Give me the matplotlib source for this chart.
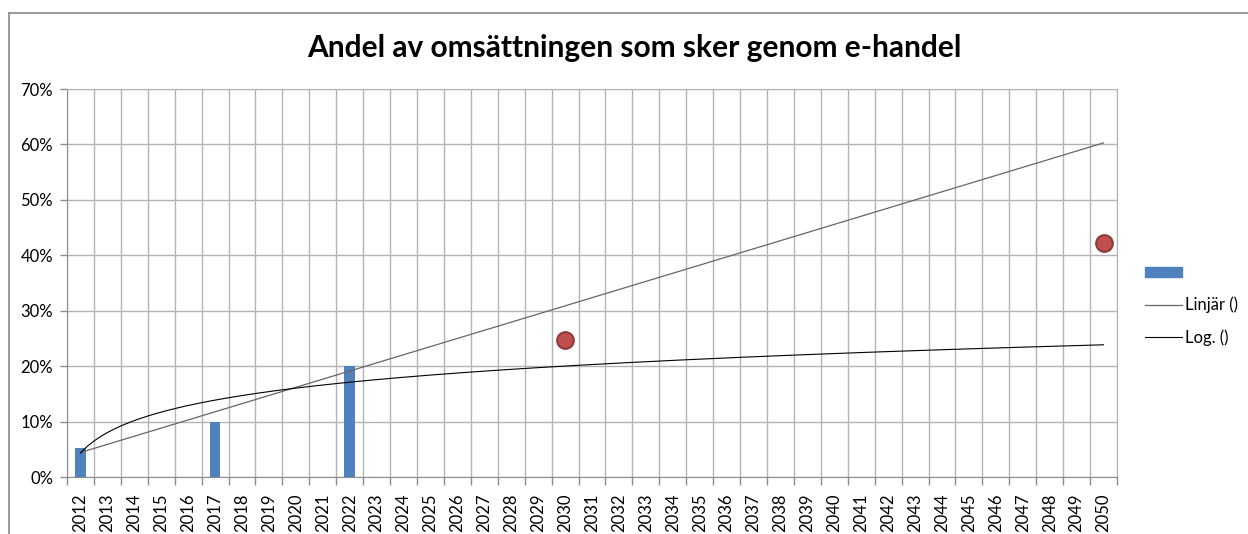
import numpy as np
import matplotlib.pyplot as plt
from matplotlib.lines import Line2D
from matplotlib.patches import Patch
from matplotlib.ticker import FuncFormatter

# ------------------------------------------------------
# data
years = list(range(2012, 2051))
bar_years = [2012, 2017, 2022]
bar_values = [0.053, 0.10, 0.20]
dot_years = [2030, 2050]
dot_values = [0.248, 0.422]
title = 'Andel av omsättningen som sker genom e-handel'
# ------------------------------------------------------

plt.rcParams['font.family'] = ['Lato', 'DejaVu Sans']

W, H = 1248, 534
fig = plt.figure(figsize=(W / 100, H / 100), dpi=100)
ax = fig.add_axes([67 / W, 1 - 477 / H, (1117 - 67) / W, (477 - 89) / H])

grid_c = '#b3b3b3'
axis_c = '#8c8c8c'

bar_x = [years.index(y) for y in bar_years]
dot_x = [years.index(y) for y in dot_years]

# bars
ax.bar(bar_x, bar_values, width=0.4, color='#4f81bd', zorder=3)

# markers only series
ax.plot(dot_x, dot_values, 'o', ms=12, mfc='#c0504d', mec='#8e3a38', mew=1.5, zorder=4)

# trendlines like excel: x is the category number 1..n
xn = np.array(bar_x) + 1
k, m = np.polyfit(xn, bar_values, 1)
xs = np.linspace(1, len(years), 400)
ax.plot(xs - 1, k * xs + m, color='#666666', lw=0.9, zorder=5)
b, a = np.polyfit(np.log(xn), bar_values, 1)
ax.plot(xs - 1, a + b * np.log(xs), color='black', lw=0.8, zorder=5)

# axes
ax.set_xlim(-0.5, len(years) - 0.5)
ax.set_ylim(0, 0.7)
ax.set_yticks(np.arange(0, 0.71, 0.1))
ax.yaxis.set_major_formatter(FuncFormatter(lambda v, p: f'{v * 100:.0f}%'))
ax.set_xticks(range(len(years)))
ax.set_xticklabels([str(y) for y in years], rotation=90)
ax.set_xticks(np.arange(-0.5, len(years), 1), minor=True)
ax.tick_params(axis='x', which='major', length=0, pad=12, labelsize=12, colors='black')
ax.tick_params(axis='x', which='minor', length=6, color=axis_c, width=1)
ax.tick_params(axis='y', length=5, color=axis_c, width=1, labelsize=12, pad=5)
ax.grid(True, which='minor', axis='x', color=grid_c, lw=1, zorder=0)
ax.grid(True, which='major', axis='y', color=grid_c, lw=1, zorder=0)
ax.set_axisbelow(True)
for s in ['top', 'right']:
    ax.spines[s].set_color(grid_c)
for s in ['left', 'bottom']:
    ax.spines[s].set_color(axis_c)

# title
fig.text(0.508, 1 - 48 / H, title, ha='center', va='center', fontsize=21.5, fontweight='bold')

# legend
handles = [Patch(color='#4f81bd'),
           Line2D([], [], color='#666666', lw=0.9),
           Line2D([], [], color='black', lw=0.8)]
fig.legend(handles, ['', 'Linjär ()', 'Log. ()'], loc='upper left',
           bbox_to_anchor=(1130 / W, 1 - 250 / H), frameon=False, fontsize=12,
           handlelength=2.2, handleheight=0.6, labelspacing=0.95, handletextpad=0.2)

# chart border (left and top)
fig.add_artist(Line2D([8.5 / W, 8.5 / W], [0, 1 - 13 / H], color='#888888', lw=1.2))
fig.add_artist(Line2D([8.5 / W, 1], [1 - 13 / H, 1 - 13 / H], color='#888888', lw=1.2))

plt.savefig('out.png', dpi=100)
